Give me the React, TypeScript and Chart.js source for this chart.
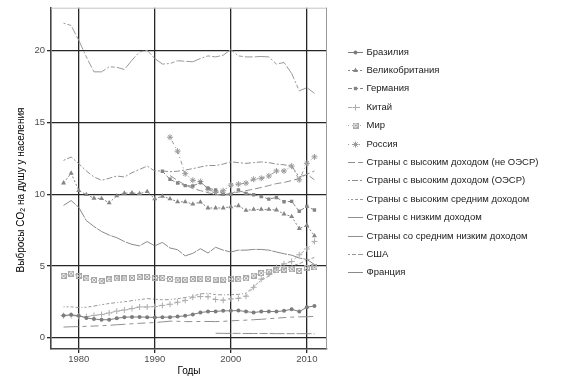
import React, { useEffect, useRef } from 'react';
import { Chart, registerables } from 'chart.js';
import { drawPoint } from 'chart.js/helpers';

Chart.register(...registerables);

const FONT = '"Liberation Sans", Arial, Helvetica, sans-serif';

const YEARS = [1978, 1979, 1980, 1981, 1982, 1983, 1984, 1985, 1986, 1987, 1988, 1989,
  1990, 1991, 1992, 1993, 1994, 1995, 1996, 1997, 1998, 1999,
  2000, 2001, 2002, 2003, 2004, 2005, 2006, 2007, 2008, 2009, 2010, 2011];

const X_TICKS = [1980, 1990, 2000, 2010];
const Y_TICKS = [0, 5, 10, 15, 20];

const BRAZIL = [1.55, 1.59, 1.53, 1.37, 1.30, 1.25, 1.25, 1.35, 1.43, 1.44, 1.44, 1.43,
  1.41, 1.43, 1.43, 1.47, 1.52, 1.62, 1.75, 1.82, 1.83, 1.87,
  1.87, 1.89, 1.82, 1.75, 1.82, 1.82, 1.82, 1.87, 1.98, 1.82, 2.12, 2.21];

const UK = [10.78, 11.46, 10.26, 9.97, 9.72, 9.69, 9.40, 9.89, 10.07, 10.09, 10.04, 10.18,
  9.68, 9.86, 9.68, 9.47, 9.47, 9.31, 9.45, 9.04, 9.04, 9.04,
  9.13, 9.2, 8.87, 8.94, 8.94, 8.94, 8.9, 8.62, 8.44, 7.6, 7.83, 7.1];

const GERMANY = [null, null, null, null, null, null, null, null, null, null, null, null,
  null, 11.6, 11.04, 10.78, 10.6, 10.57, 10.81, 10.42, 10.3, 10.0,
  10.0, 10.3, 10.05, 9.96, 9.84, 9.66, 9.77, 9.47, 9.5, 8.81, 9.15, 8.9];

const CHINA = [1.53, 1.55, 1.49, 1.46, 1.55, 1.61, 1.72, 1.85, 1.93, 2.03, 2.14, 2.14,
  2.17, 2.25, 2.33, 2.47, 2.60, 2.82, 2.87, 2.85, 2.66, 2.61,
  2.70, 2.74, 2.89, 3.51, 4.08, 4.44, 4.89, 5.15, 5.31, 5.78, 6.18, 6.71];

const WORLD = [4.31, 4.47, 4.31, 4.13, 4.01, 3.94, 4.06, 4.13, 4.13, 4.17, 4.24, 4.24,
  4.17, 4.17, 4.08, 4.01, 4.04, 4.08, 4.1, 4.1, 4.05, 4.05,
  4.08, 4.08, 4.13, 4.33, 4.5, 4.6, 4.7, 4.75, 4.77, 4.65, 4.85, 4.9];

const RUSSIA = [null, null, null, null, null, null, null, null, null, null, null, null,
  null, null, 13.97, 13.0, 11.43, 10.97, 10.88, 10.35, 10.12, 10.24,
  10.63, 10.7, 10.77, 11.04, 11.11, 11.27, 11.62, 11.62, 11.96, 11.0, 12.15, 12.6];

const HI_NON_OECD = [null, null, null, null, null, null, null, null, null, null, null, null,
  null, null, 11.3, 10.95, 10.65, 10.4, 10.25, 10.1, 10.0, 9.92,
  10.05, 10.15, 10.25, 10.35, 10.47, 10.6, 10.74, 10.82, 10.95, 11.1, 11.39, 11.62];

const HI_OECD = [12.36, 12.59, 12.13, 11.62, 11.2, 10.97, 11.11, 11.27, 11.2, 11.5, 11.73, 11.96,
  11.62, 11.62, 11.57, 11.6, 11.69, 11.78, 11.9, 12.0, 12.0, 12.1,
  12.26, 12.2, 12.15, 12.2, 12.25, 12.2, 12.1, 12.05, 11.96, 11.2, 11.4, 11.0];

const UPPER_MIDDLE = [2.15, 2.15, 2.1, 2.12, 2.2, 2.3, 2.38, 2.45, 2.5, 2.58, 2.65, 2.72,
  2.68, 2.64, 2.65, 2.72, 2.8, 2.9, 3.05, 3.1, 3.0, 2.98,
  3.0, 3.02, 3.1, 3.55, 4.0, 4.3, 4.6, 4.8, 5.0, 5.15, 5.4, 5.6];

const LOW_INCOME = [null, null, null, null, null, null, null, null, null, null, null, null,
  null, null, null, null, null, null, null, null, 0.31, 0.3,
  0.3, 0.3, 0.29, 0.29, 0.29, 0.29, 0.28, 0.28, 0.28, 0.28, 0.28, 0.27];

const LOWER_MIDDLE = [0.74, 0.76, 0.77, 0.79, 0.81, 0.83, 0.86, 0.9, 0.93, 0.97, 1.0, 1.03,
  1.05, 1.1, 1.15, 1.14, 1.12, 1.12, 1.13, 1.13, 1.12, 1.14,
  1.17, 1.2, 1.22, 1.25, 1.28, 1.32, 1.36, 1.4, 1.43, 1.45, 1.46, 1.48];

const USA = [21.92, 21.76, 20.73, 19.57, 18.53, 18.53, 18.88, 18.85, 18.69, 19.34, 19.92, 20.03,
  19.46, 19.07, 19.11, 19.3, 19.27, 19.23, 19.46, 19.64, 19.57, 19.69,
  20.08, 19.64, 19.57, 19.57, 19.6, 19.57, 19.07, 19.18, 18.42, 17.2, 17.43, 17.03];

const FRANCE = [9.22, 9.56, 9.08, 8.16, 7.75, 7.4, 7.15, 6.97, 6.7, 6.5, 6.4, 6.7,
  6.4, 6.64, 6.25, 6.13, 5.7, 5.88, 6.2, 5.9, 6.3, 6.1,
  5.97, 6.1, 6.1, 6.15, 6.15, 6.1, 5.97, 5.85, 5.75, 5.55, 5.45, 5.1];

const LABELS = [
  'Бразилия', 'Великобритания', 'Германия', 'Китай', 'Мир', 'Россия',
  'Страны с высоким доходом (не ОЭСР)', 'Страны с высоким доходом (ОЭСР)',
  'Страны с высоким средним доходом', 'Страны с низким доходом',
  'Страны со средним низким доходом', 'США', 'Франция',
];

const SERIES = [BRAZIL, UK, GERMANY, CHINA, WORLD, RUSSIA, HI_NON_OECD, HI_OECD,
  UPPER_MIDDLE, LOW_INCOME, LOWER_MIDDLE, USA, FRANCE];

function makeBoxX(color: string) {
  const c = document.createElement('canvas');
  c.width = 6; c.height = 6;
  const g = c.getContext('2d')!;
  g.strokeStyle = color; g.lineWidth = 1;
  g.strokeRect(0.5, 0.5, 5, 5);
  g.beginPath();
  g.moveTo(0.5, 0.5); g.lineTo(5.5, 5.5);
  g.moveTo(5.5, 0.5); g.lineTo(0.5, 5.5);
  g.stroke();
  return c;
}

type Style = { color: string; dash: number[]; point: any; radius: number; pbw: number };

function styles(): Style[] {
  return [
    { color: '#7c7c7c', dash: [], point: 'circle', radius: 2, pbw: 0 },
    { color: '#858585', dash: [2, 2], point: 'triangle', radius: 2.9, pbw: 0 },
    { color: '#858585', dash: [4, 2], point: 'rect', radius: 2.4, pbw: 0 },
    { color: '#acacac', dash: [4, 4], point: 'cross', radius: 3, pbw: 1 },
    { color: '#a8a8a8', dash: [1, 3], point: makeBoxX('#a8a8a8'), radius: 3, pbw: 1 },
    { color: '#999999', dash: [1, 3, 4, 3], point: 'star', radius: 3, pbw: 1 },
    { color: '#8f8f8f', dash: [7, 3], point: false, radius: 0, pbw: 0 },
    { color: '#8f8f8f', dash: [2, 2, 6, 2], point: false, radius: 0, pbw: 0 },
    { color: '#999999', dash: [1, 2, 2, 2, 3, 2, 4, 2], point: false, radius: 0, pbw: 0 },
    { color: '#8f8f8f', dash: [15, 2, 8, 2], point: false, radius: 0, pbw: 0 },
    { color: '#8f8f8f', dash: [15, 4, 4, 4, 8, 4, 4, 4], point: false, radius: 0, pbw: 0 },
    { color: '#999999', dash: [2, 2, 4, 2, 8, 2, 15, 2], point: false, radius: 0, pbw: 0 },
    { color: '#8a8a8a', dash: [15, 1], point: false, radius: 0, pbw: 0 },
  ];
}

const legendPlugin = {
  id: 'customLegend',
  afterDraw(chart: any) {
    const ctx = chart.ctx as CanvasRenderingContext2D;
    chart.data.datasets.forEach((ds: any, i: number) => {
      const y = Math.round(51.7 + i * 18.38) + 0.5;
      ctx.save();
      ctx.strokeStyle = ds.borderColor;
      ctx.lineWidth = ds.borderWidth;
      ctx.setLineDash(ds.borderDash || []);
      ctx.beginPath();
      ctx.moveTo(348, y);
      ctx.lineTo(363, y);
      ctx.stroke();
      ctx.setLineDash([]);
      if (ds.pointStyle && ds.pointRadius > 0) {
        ctx.fillStyle = ds.pointBackgroundColor;
        ctx.strokeStyle = ds.pointBorderColor;
        ctx.lineWidth = ds.pointBorderWidth || 1;
        drawPoint(ctx, { pointStyle: ds.pointStyle, radius: ds.pointRadius, borderWidth: ds.pointBorderWidth, rotation: 0 } as any, 355.5, y);
      }
      ctx.fillStyle = '#1a1a1a';
      ctx.font = `9.5px ${FONT}`;
      ctx.textBaseline = 'middle';
      ctx.textAlign = 'left';
      ctx.fillText(ds.label, 366.5, y);
      ctx.restore();
    });

    // y axis title with subscript
    ctx.save();
    ctx.translate(21, 190);
    ctx.rotate(-Math.PI / 2);
    ctx.fillStyle = '#000';
    ctx.textBaseline = 'middle';
    ctx.textAlign = 'left';
    const big = `10px ${FONT}`;
    const small = `7px ${FONT}`;
    const p1 = 'Выбросы CO';
    const p2 = '2';
    const p3 = ' на душу у населения';
    ctx.font = big;
    const w1 = ctx.measureText(p1).width;
    const w3 = ctx.measureText(p3).width;
    ctx.font = small;
    const w2 = ctx.measureText(p2).width;
    const total = w1 + w2 + w3;
    let x = -total / 2;
    ctx.font = big;
    ctx.fillText(p1, x, 0);
    x += w1;
    ctx.font = small;
    ctx.fillText(p2, x, 2.5);
    x += w2;
    ctx.font = big;
    ctx.fillText(p3, x, 0);
    ctx.restore();
  },
  beforeDatasetsDraw(chart: any) {
    const { ctx, chartArea } = chart;
    ctx.save();
    ctx.lineWidth = 1;
    ctx.strokeStyle = '#c4c4c4';
    ctx.beginPath();
    ctx.moveTo(chartArea.left, chartArea.top + 0.5);
    ctx.lineTo(chartArea.right, chartArea.top + 0.5);
    ctx.stroke();
    ctx.strokeStyle = '#9a9a9a';
    ctx.beginPath();
    ctx.moveTo(chartArea.right - 0.5, chartArea.top);
    ctx.lineTo(chartArea.right - 0.5, chartArea.bottom);
    ctx.stroke();
    ctx.restore();
  },
};

export default function App() {
  const ref = useRef<HTMLCanvasElement | null>(null);
  useEffect(() => {
    if (!ref.current) return;
    const st = styles();
    const datasets = SERIES.map((vals, i) => ({
      label: LABELS[i],
      data: YEARS.map((yr, j) => ({ x: yr, y: vals[j] })).filter((p) => p.y !== null),
      borderColor: st[i].color,
      backgroundColor: st[i].color,
      borderWidth: 1,
      borderDash: st[i].dash,
      pointStyle: st[i].point,
      pointRadius: st[i].radius,
      pointBorderWidth: st[i].pbw,
      pointBackgroundColor: st[i].color,
      pointBorderColor: st[i].color,
      pointHoverRadius: st[i].radius,
      tension: 0,
      fill: false,
    }));
    const chart = new Chart(ref.current, {
      type: 'line',
      data: { datasets },
      plugins: [legendPlugin],
      options: {
        animation: false,
        responsive: true,
        maintainAspectRatio: false,
        layout: { padding: { top: 6, right: 239, left: 0, bottom: 0 } },
        plugins: { legend: { display: false }, tooltip: { enabled: false } },
        scales: {
          x: {
            type: 'linear',
            min: 1976.35,
            max: 2012.65,
            afterBuildTicks: (s: any) => { s.ticks = X_TICKS.map((v) => ({ value: v })); },
            afterFit: (s: any) => { s.height = 31; },
            ticks: { color: '#4d4d4d', padding: 1, font: { size: 9.5, family: FONT }, callback: (v: any) => String(v) },
            grid: { color: '#262626', lineWidth: 1.3, tickLength: 4, drawTicks: true },
            border: { display: true, color: '#444', width: 1.6 },
            title: { display: true, text: 'Годы', color: '#000', font: { size: 10, family: FONT }, padding: { top: 0, bottom: 3 } },
          },
          y: {
            type: 'linear',
            min: -0.79,
            max: 23.0,
            afterBuildTicks: (s: any) => { s.ticks = Y_TICKS.map((v) => ({ value: v })); },
            afterFit: (s: any) => { s.width = 51; },
            ticks: { color: '#4d4d4d', padding: 2, font: { size: 9.5, family: FONT }, callback: (v: any) => String(v) },
            grid: { color: '#262626', lineWidth: 1.3, tickLength: 4, drawTicks: true },
            border: { display: true, color: '#444', width: 1.6 },
          },
        },
      } as any,
    });
    return () => chart.destroy();
  }, []);
  return (
    <div style={{ position: 'fixed', left: 0, top: 0, width: 566, height: 380, background: '#fff' }}>
      <canvas ref={ref} />
    </div>
  );
}
